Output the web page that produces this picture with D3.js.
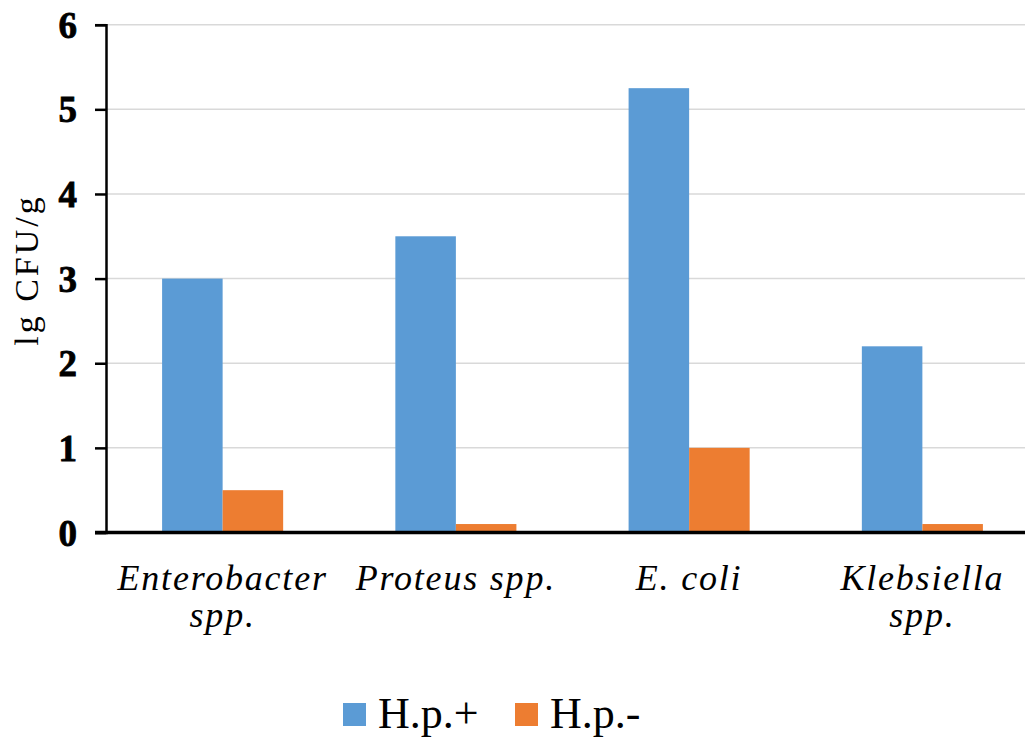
<!DOCTYPE html>
<html>
<head>
<meta charset="utf-8">
<script src="https://cdn.jsdelivr.net/npm/d3@7"></script>
<style>
  body { margin: 0; background: #fff; }
  svg { display: block; }
</style>
</head>
<body>
<div id="chart"></div>
<script>
// chart data
var categories = ["Enterobacter spp.", "Proteus spp.", "E. coli", "Klebsiella spp."];
var labelLines = [["Enterobacter", "spp."], ["Proteus spp."], ["E. coli"], ["Klebsiella", "spp."]];
var seriesNames = ["H.p.+", "H.p.-"];
var hpPos = [3.0, 3.5, 5.25, 2.2];
var hpNeg = [0.5, 0.1, 1.0, 0.1];
var yTicks = [0, 1, 2, 3, 4, 5, 6];
var colors = ["#5B9BD5", "#ED7D31"];

var w = 1025, h = 738;
var pad = {top: 24.7, bottom: 205.5, left: 106, right: -14};
var serif = "'Liberation Serif', 'Times New Roman', serif";

var svg = d3.select("#chart").append("svg")
    .attr("width", w)
    .attr("height", h);

// scales
var xScale = d3.scaleBand()
    .domain(d3.range(categories.length))
    .range([pad.left, w - pad.right])
    .paddingInner(0.481)
    .paddingOuter(0.2405);

var subScale = d3.scaleBand()
    .domain(d3.range(seriesNames.length))
    .range([0, xScale.bandwidth()]);

var yScale = d3.scaleLinear()
    .domain([0, 6])
    .range([h - pad.bottom, pad.top]);

// gridlines
svg.append("g")
    .selectAll("line")
    .data(yTicks.filter(function(d) { return d > 0; }))
    .enter()
    .append("line")
    .attr("x1", pad.left)
    .attr("x2", w)
    .attr("y1", function(d) { return yScale(d); })
    .attr("y2", function(d) { return yScale(d); })
    .attr("stroke", "#d9d9d9")
    .attr("stroke-width", 1.5);

// bars
var rows = categories.map(function(c, i) { return [hpPos[i], hpNeg[i]]; });
var groups = svg.append("g")
    .selectAll("g")
    .data(rows)
    .enter()
    .append("g")
    .attr("transform", function(d, i) { return "translate(" + xScale(i) + ",0)"; });

groups.selectAll("rect")
    .data(function(d) { return d; })
    .enter()
    .append("rect")
    .attr("x", function(d, j) { return subScale(j); })
    .attr("y", function(d) { return yScale(d); })
    .attr("width", subScale.bandwidth())
    .attr("height", function(d) { return yScale(0) - yScale(d); })
    .attr("fill", function(d, j) { return colors[j]; });

// y axis
var yAxis = d3.axisLeft(yScale)
    .tickValues(yTicks)
    .tickSize(11)
    .tickPadding(18)
    .tickFormat(d3.format("d"));

var yG = svg.append("g")
    .attr("transform", "translate(" + pad.left + ",0)")
    .call(yAxis);
yG.select(".domain").attr("stroke", "#000").attr("stroke-width", 2.5);
yG.selectAll(".tick line").attr("stroke", "#000").attr("stroke-width", 2.5);
yG.selectAll(".tick text")
    .attr("font-family", serif)
    .attr("font-weight", "bold")
    .attr("font-size", 37)
    .attr("fill", "#000")
    .attr("stroke", "#000")
    .attr("stroke-width", 0.8)
    .attr("dy", "0.34em");

// x axis line
svg.append("line")
    .attr("x1", pad.left - 11)
    .attr("x2", w)
    .attr("y1", yScale(0))
    .attr("y2", yScale(0))
    .attr("stroke", "#000")
    .attr("stroke-width", 3.5);

// category labels
var catLabels = svg.append("g")
    .selectAll("text")
    .data(labelLines)
    .enter()
    .append("text")
    .attr("x", function(d, i) { return xScale(i) + xScale.bandwidth() / 2; })
    .attr("y", 590)
    .attr("text-anchor", "middle")
    .attr("font-family", serif)
    .attr("font-style", "italic")
    .attr("font-size", 36)
    .attr("letter-spacing", 1.8)
    .attr("fill", "#000");

catLabels.selectAll("tspan")
    .data(function(d, i) { return d.map(function(t) { return {t: t, i: i}; }); })
    .enter()
    .append("tspan")
    .attr("x", function(d) { return xScale(d.i) + xScale.bandwidth() / 2; })
    .attr("dy", function(d, k) { return k === 0 ? 0 : 37; })
    .text(function(d) { return d.t; });

// y axis title
svg.append("text")
    .attr("transform", "translate(38,270)rotate(-90)")
    .attr("text-anchor", "middle")
    .attr("font-family", serif)
    .attr("font-size", 34)
    .attr("letter-spacing", 3)
    .attr("fill", "#000")
    .text("lg CFU/g");

// legend
var legendX = [343, 515];
var legend = svg.append("g")
    .selectAll("g")
    .data(seriesNames)
    .enter()
    .append("g")
    .attr("transform", function(d, i) { return "translate(" + legendX[i] + ",703)"; });

legend.append("rect")
    .attr("width", 23)
    .attr("height", 23)
    .attr("fill", function(d, i) { return colors[i]; });

legend.append("text")
    .attr("x", 35)
    .attr("y", 25)
    .attr("font-family", serif)
    .attr("font-size", 44)
    .attr("fill", "#000")
    .text(function(d) { return d; });
</script>
</body>
</html>
